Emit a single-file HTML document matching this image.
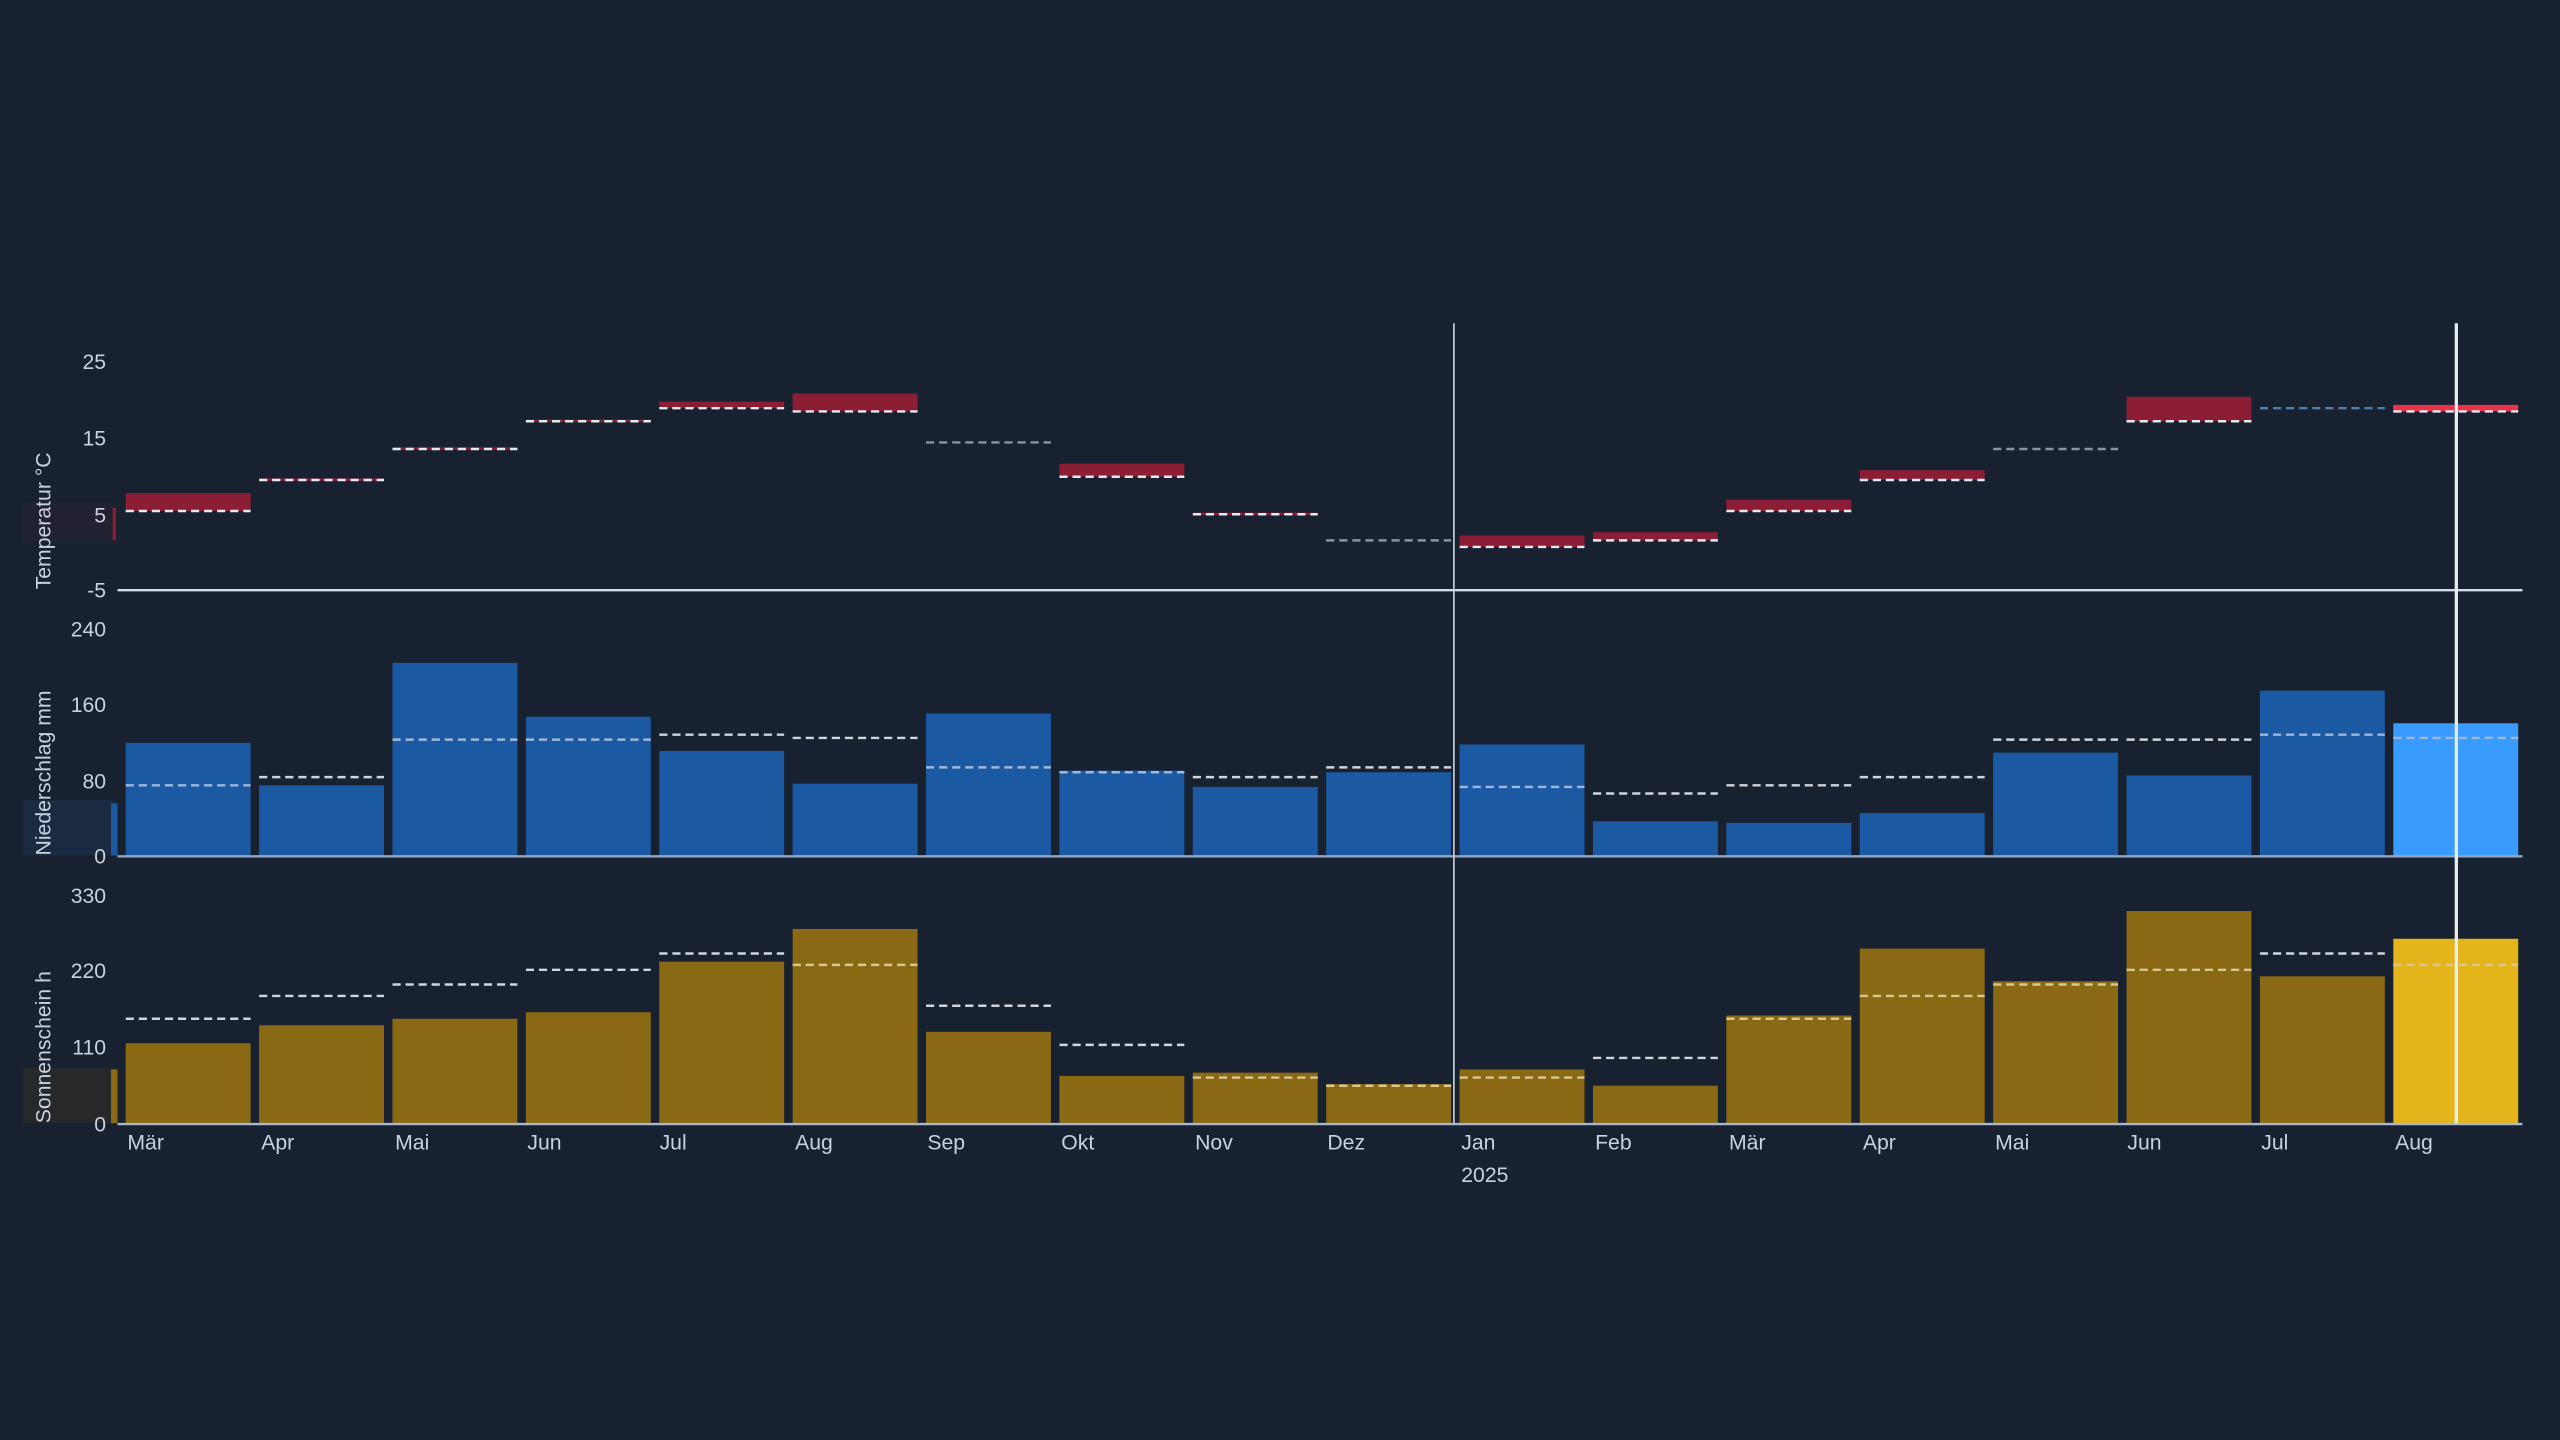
<!DOCTYPE html>
<html><head><meta charset="utf-8"><style>
html,body{margin:0;padding:0;background:#18212f;}
svg{display:block}
text{font-family:"Liberation Sans",sans-serif;fill:#c9d1dc;font-size:13px}
</style></head><body>
<svg id="s" width="2560" height="1440" viewBox="0 0 1568 882" xmlns="http://www.w3.org/2000/svg">
<rect width="1568" height="882" fill="#18212f"/>
<g id="g"></g>
<!-- left shaded boxes -->
<rect x="14" y="308" width="56" height="24" fill="#2a2236" opacity="0.6"/>
<rect x="14" y="490" width="56" height="34" fill="#1c2d45" opacity="0.8"/>
<rect x="14" y="654" width="56" height="34" fill="#2b2a28" opacity="0.8"/>
<rect x="69" y="311" width="2" height="20" fill="#8b1e34"/>
<rect x="68" y="492" width="4" height="32" fill="#1b5aa3"/>
<rect x="68" y="655" width="4" height="33" fill="#8a6914"/>
<!-- axis lines -->
<line x1="72" y1="361.5" x2="1545" y2="361.5" stroke="#d6dbe6" stroke-width="1.5"/>
<line x1="72" y1="524.5" x2="1545" y2="524.5" stroke="#8fa6c8" stroke-width="1.5"/>
<line x1="72" y1="688.5" x2="1545" y2="688.5" stroke="#a9b8cf" stroke-width="1.5"/>
<line x1="890.5" y1="198" x2="890.5" y2="688" stroke="#c9d1dc" stroke-width="1"/>
<line x1="1504.5" y1="198" x2="1504.5" y2="688" stroke="#e8ecf3" stroke-width="2"/>
<!-- y ticks -->
<g text-anchor="end">
<text x="65" y="226">25</text><text x="65" y="273">15</text><text x="65" y="320">5</text><text x="65" y="366">-5</text>
<text x="65" y="390">240</text><text x="65" y="436">160</text><text x="65" y="483">80</text><text x="65" y="529">0</text>
<text x="65" y="553">330</text><text x="65" y="599">220</text><text x="65" y="646">110</text><text x="65" y="693">0</text>
</g>
<text transform="translate(31,361) rotate(-90)">Temperatur °C</text>
<text transform="translate(31,524) rotate(-90)">Niederschlag mm</text>
<text transform="translate(31,688) rotate(-90)">Sonnenschein h</text>
<g>
<text x="78" y="704">Mär</text><text x="160" y="704">Apr</text><text x="242" y="704">Mai</text><text x="323" y="704">Jun</text>
<text x="404" y="704">Jul</text><text x="487" y="704">Aug</text><text x="568" y="704">Sep</text><text x="650" y="704">Okt</text>
<text x="732" y="704">Nov</text><text x="813" y="704">Dez</text><text x="895" y="704">Jan</text><text x="977" y="704">Feb</text>
<text x="1059" y="704">Mär</text><text x="1141" y="704">Apr</text><text x="1222" y="704">Mai</text><text x="1303" y="704">Jun</text>
<text x="1385" y="704">Jul</text><text x="1467" y="704">Aug</text>
<text x="895" y="724">2025</text>
</g>
</svg>
<script>
var g=document.getElementById('g'),NS="http://www.w3.org/2000/svg";
function el(t,a){var e=document.createElementNS(NS,t);for(var k in a)e.setAttribute(k,a[k]);g.appendChild(e);}
var x0=77,p=81.7,w=76.5;
// temperature: [top,bottom(dashed)]; null top = no bar
var T=[[302,313],[293,294],[274,275],[257,258],[246,250],[241,252],[null,271],[284,292],[314,315],[null,331],[328,335],[326,331],[306,313],[288,294],[null,275],[243,258],[null,250],[248,252]];
var P=[455,481,406,439,460,480,437,472,482,473,456,503,504,498,461,475,423,443];
var Pd=[481,476,453,453,450,452,470,473,476,470,482,486,481,476,453,453,450,452];
var S=[639,628,624,620,589,569,632,659,657,664,655,665,622,581,601,558,598,575];
var Sd=[624,610,603,594,584,591,616,640,660,665,660,648,624,610,603,594,584,591];
for(var i=0;i<18;i++){
 var x=x0+i*p,last=i==17;
 var t=T[i];
 if(t[0]!==null){el('rect',{x:x,y:t[0],width:w,height:Math.max(1.5,t[1]-t[0]),fill:last?'#e8334a':'#8b1e34'});}
 var dc=t[0]===null?(i==16?'#4d7fb5':'#8a93a3'):'#e6e9ef';
 el('line',{x1:x,y1:t[1],x2:x+w,y2:t[1],stroke:dc,'stroke-width':1.5,'stroke-dasharray':'5,3'});
 el('rect',{x:x,y:P[i],width:w,height:524-P[i],fill:last?'#3a9bff':'#1b5aa3'});
 el('line',{x1:x,y1:Pd[i],x2:x+w,y2:Pd[i],stroke:Pd[i]>P[i]?'#9fb8d8':'#d0d4dc','stroke-width':1.5,'stroke-dasharray':'5,3'});
 el('rect',{x:x,y:S[i],width:w,height:688-S[i],fill:last?'#e3b51a':'#8a6914'});
 el('line',{x1:x,y1:Sd[i],x2:x+w,y2:Sd[i],stroke:Sd[i]>S[i]?'#d8c890':'#d0d4dc','stroke-width':1.5,'stroke-dasharray':'5,3'});
}
</script>
</body></html>
